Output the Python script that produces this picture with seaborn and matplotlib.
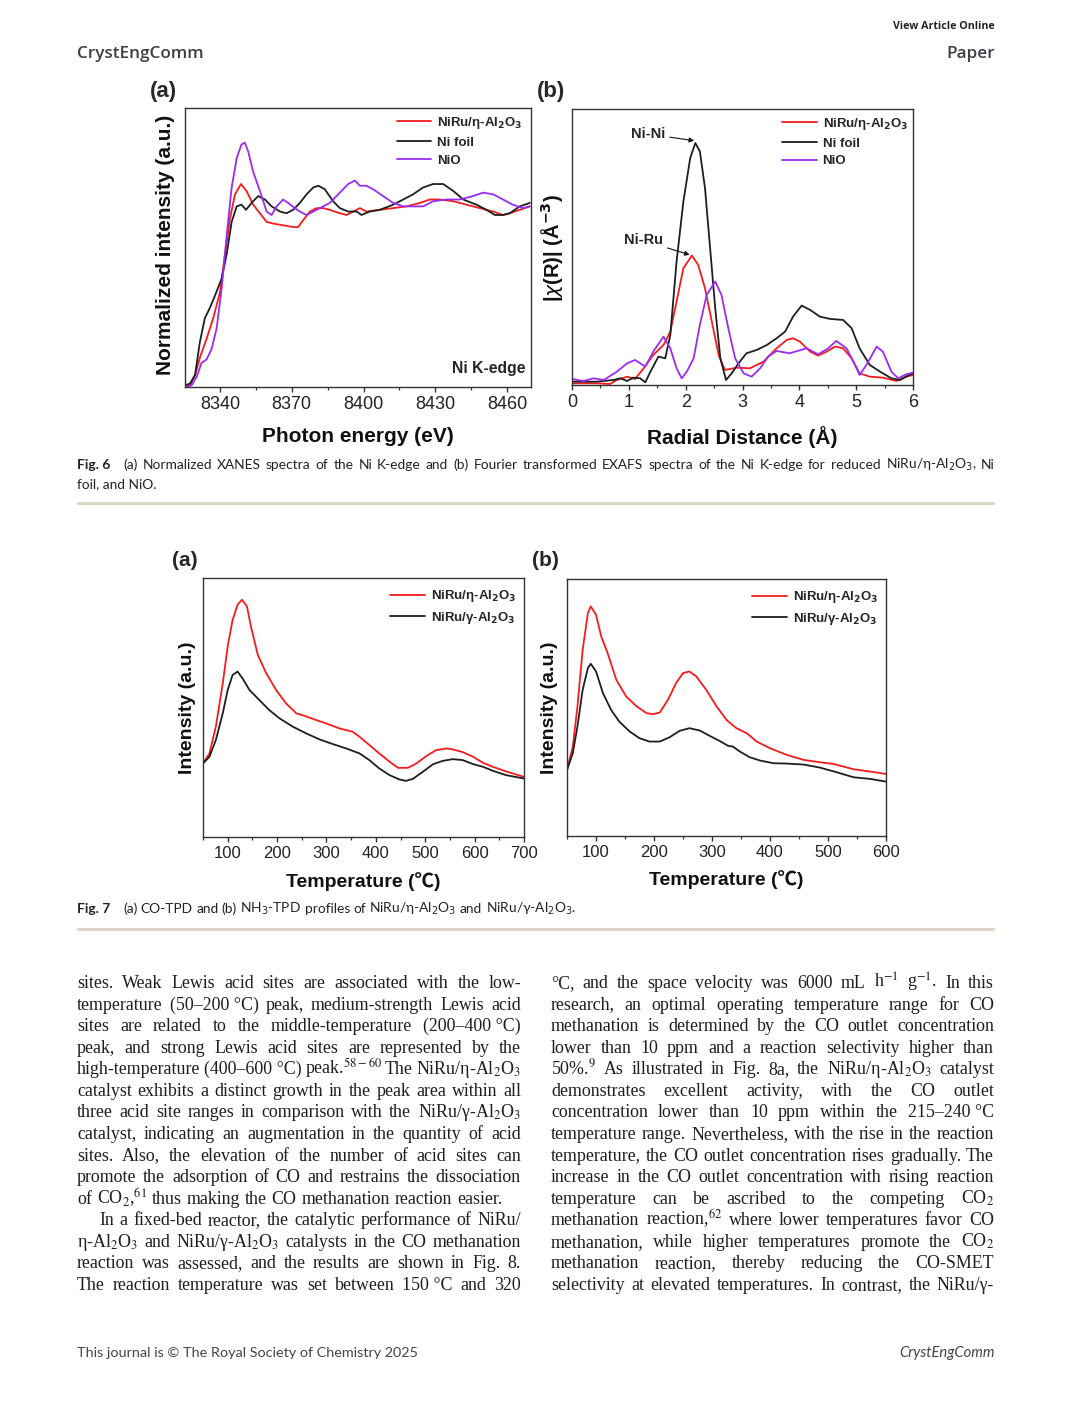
import numpy as np
import pandas as pd
import seaborn as sns
import matplotlib
matplotlib.use("Agg")
import matplotlib.pyplot as plt
from matplotlib.ticker import MultipleLocator
from matplotlib.patches import Rectangle

# ---------------- data ----------------
# Fig 6a XANES
xanes_x_ni_ru = [8325.4, 8327.5, 8329.6, 8331.6, 8334.4, 8337.2, 8340.0, 8342.1, 8344.2, 8346.3, 8348.8, 8351.1,
                 8353.9, 8356.7, 8359.5, 8362.3, 8366.4, 8370.6, 8372.7, 8374.8, 8377.6, 8380.4, 8383.2, 8385.9,
                 8390.1, 8392.9, 8395.7, 8398.5, 8401.2, 8406.8, 8412.4, 8418.0, 8423.5, 8427.7, 8431.9, 8437.5,
                 8443.0, 8448.6, 8454.2, 8458.3, 8461.1, 8465.3, 8469.5]
xanes_y_ni_ru = [0.00, 0.00, 0.06, 0.16, 0.27, 0.39, 0.54, 0.76, 0.97, 1.11, 1.17, 1.13, 1.05, 1.00, 0.95, 0.94,
                 0.93, 0.92, 0.92, 0.96, 1.01, 1.03, 1.03, 1.02, 1.00, 0.99, 1.01, 1.03, 1.01, 1.02, 1.03, 1.04,
                 1.06, 1.08, 1.08, 1.07, 1.05, 1.03, 1.01, 0.99, 1.00, 1.02, 1.04]
xanes_x_foil = [8325.4, 8327.5, 8329.6, 8331.6, 8333.7, 8335.8, 8337.9, 8340.7, 8342.8, 8344.9, 8347.0, 8349.0,
                8350.9, 8353.2, 8356.0, 8358.8, 8361.6, 8365.1, 8367.8, 8370.6, 8373.4, 8376.2, 8379.0, 8381.1,
                8383.8, 8387.3, 8390.1, 8393.6, 8397.1, 8399.2, 8402.6, 8406.8, 8412.4, 8416.6, 8420.7, 8424.9,
                8429.1, 8433.3, 8437.5, 8441.7, 8447.2, 8451.4, 8454.9, 8458.3, 8461.1, 8465.3, 8469.5]
xanes_y_foil = [0.00, 0.01, 0.06, 0.25, 0.39, 0.45, 0.52, 0.62, 0.76, 0.95, 1.04, 1.05, 1.02, 1.06, 1.10, 1.08,
                1.04, 1.01, 1.00, 1.02, 1.06, 1.11, 1.15, 1.16, 1.14, 1.07, 1.03, 1.01, 1.01, 0.99, 1.01, 1.02,
                1.05, 1.08, 1.11, 1.15, 1.17, 1.17, 1.13, 1.08, 1.05, 1.02, 0.99, 0.99, 1.00, 1.04, 1.06]
xanes_x_nio = [8325.4, 8328.2, 8330.3, 8332.3, 8334.4, 8336.5, 8338.6, 8340.7, 8342.8, 8344.9, 8347.0, 8349.0,
               8350.4, 8351.8, 8353.9, 8356.7, 8359.5, 8361.6, 8363.7, 8366.4, 8368.5, 8371.3, 8373.4, 8376.2,
               8379.0, 8381.8, 8385.9, 8390.1, 8393.6, 8396.4, 8398.5, 8401.2, 8404.0, 8408.2, 8412.4, 8416.6,
               8420.7, 8424.9, 8429.1, 8434.7, 8440.3, 8445.8, 8450.0, 8454.2, 8458.3, 8462.4, 8466.6, 8469.5]
xanes_y_nio = [-0.01, 0.00, 0.05, 0.13, 0.15, 0.21, 0.33, 0.56, 0.87, 1.15, 1.32, 1.40, 1.41, 1.36, 1.24, 1.13,
               1.01, 0.99, 1.04, 1.08, 1.06, 1.03, 1.01, 0.99, 1.01, 1.03, 1.06, 1.12, 1.17, 1.19, 1.16, 1.16,
               1.14, 1.10, 1.06, 1.04, 1.04, 1.04, 1.07, 1.08, 1.08, 1.10, 1.12, 1.11, 1.08, 1.05, 1.03, 1.04]

# Fig 6b EXAFS
exafs_x_foil = [0.00, 0.44, 0.73, 0.85, 0.97, 1.08, 1.20, 1.29, 1.38, 1.52, 1.64, 1.73, 1.84, 1.96, 2.08, 2.17,
                2.25, 2.34, 2.43, 2.52, 2.61, 2.71, 2.81, 2.93, 3.07, 3.25, 3.43, 3.60, 3.75, 3.89, 4.04, 4.19,
                4.36, 4.54, 4.77, 4.92, 5.06, 5.24, 5.42, 5.62, 5.77, 5.88, 6.00]
exafs_y_foil = [0.10, 0.10, 0.15, 0.20, 0.12, 0.22, 0.20, 0.08, 0.40, 0.85, 0.80, 1.50, 3.70, 5.50, 6.80, 7.25,
                7.00, 5.90, 4.10, 2.30, 0.80, 0.15, 0.35, 0.65, 0.95, 1.05, 1.20, 1.40, 1.60, 2.05, 2.38, 2.25,
                2.05, 1.98, 1.95, 1.70, 1.10, 0.60, 0.40, 0.20, 0.15, 0.25, 0.35]
exafs_x_ni_ru = [0.00, 0.44, 0.67, 0.79, 0.97, 1.11, 1.26, 1.43, 1.61, 1.73, 1.84, 1.96, 2.11, 2.22, 2.34, 2.46,
                 2.58, 2.69, 2.90, 3.13, 3.37, 3.60, 3.78, 3.89, 4.01, 4.19, 4.33, 4.48, 4.63, 4.77, 4.92, 5.06,
                 5.24, 5.47, 5.71, 5.88, 6.00]
exafs_y_ni_ru = [0.05, 0.05, 0.03, 0.15, 0.25, 0.18, 0.50, 0.90, 1.20, 1.60, 2.50, 3.50, 3.88, 3.60, 2.90, 1.90,
                 0.90, 0.45, 0.52, 0.50, 0.70, 1.10, 1.35, 1.40, 1.30, 1.00, 0.88, 1.00, 1.15, 1.10, 0.80, 0.35,
                 0.25, 0.22, 0.12, 0.25, 0.30]
exafs_x_nio = [0.00, 0.20, 0.38, 0.56, 0.79, 0.97, 1.11, 1.29, 1.43, 1.61, 1.73, 1.84, 1.93, 2.02, 2.14, 2.25,
               2.37, 2.52, 2.63, 2.75, 2.87, 3.02, 3.16, 3.31, 3.45, 3.60, 3.83, 4.13, 4.33, 4.51, 4.65, 4.83,
               4.98, 5.06, 5.18, 5.36, 5.47, 5.62, 5.74, 5.88, 6.00]
exafs_y_nio = [0.18, 0.12, 0.20, 0.15, 0.40, 0.65, 0.75, 0.55, 1.00, 1.45, 1.10, 0.50, 0.20, 0.40, 0.80, 1.80,
               2.70, 3.10, 2.70, 1.70, 0.80, 0.35, 0.25, 0.50, 0.85, 1.02, 0.95, 1.10, 0.92, 1.10, 1.32, 1.10,
               0.60, 0.30, 0.60, 1.15, 1.00, 0.40, 0.20, 0.32, 0.37]

# Fig 7a CO-TPD
co_x_eta = [50, 63, 76, 90, 100, 110, 120, 129, 139, 147, 161, 178, 198, 218, 239, 255, 279, 299, 326, 353,
            367, 387, 407, 428, 445, 465, 482, 502, 522, 543, 556, 576, 597, 617, 637, 664, 700]
co_y_eta = [2.20, 2.50, 3.30, 4.60, 5.70, 6.50, 6.95, 7.10, 6.90, 6.30, 5.45, 4.90, 4.40, 4.00, 3.70, 3.63,
            3.50, 3.40, 3.25, 3.15, 3.00, 2.75, 2.50, 2.25, 2.07, 2.07, 2.20, 2.42, 2.60, 2.65, 2.62, 2.54,
            2.40, 2.22, 2.10, 1.96, 1.80]
co_x_gamma = [50, 63, 76, 90, 100, 110, 120, 130, 144, 164, 184, 205, 232, 259, 286, 313, 340, 367, 387, 407,
              428, 448, 461, 475, 495, 516, 536, 556, 576, 597, 617, 637, 664, 700]
co_y_gamma = [2.20, 2.40, 2.90, 3.70, 4.40, 4.85, 4.95, 4.75, 4.40, 4.10, 3.80, 3.55, 3.30, 3.10, 2.92, 2.78,
              2.65, 2.50, 2.30, 2.05, 1.85, 1.72, 1.68, 1.74, 1.95, 2.18, 2.28, 2.33, 2.30, 2.18, 2.10, 1.98,
              1.85, 1.75]

# Fig 7b NH3-TPD
nh3_x_eta = [50, 60, 68, 77, 86, 91, 100, 109, 120, 135, 152, 169, 187, 198, 210, 224, 238, 250, 261, 273,
             290, 308, 325, 342, 360, 377, 400, 429, 458, 486, 509, 544, 573, 600]
nh3_y_eta = [1.98, 2.68, 3.88, 5.58, 6.68, 6.88, 6.63, 5.98, 5.48, 4.68, 4.18, 3.90, 3.68, 3.65, 3.70, 4.08,
             4.58, 4.88, 4.93, 4.78, 4.38, 3.88, 3.48, 3.23, 3.08, 2.83, 2.63, 2.43, 2.28, 2.21, 2.16, 2.00,
             1.93, 1.86]
nh3_x_gamma = [50, 60, 68, 77, 86, 91, 100, 112, 126, 140, 158, 175, 192, 210, 227, 244, 261, 279, 296, 313,
               328, 336, 348, 365, 383, 406, 429, 458, 486, 515, 544, 573, 600]
nh3_y_gamma = [1.98, 2.48, 3.28, 4.38, 5.03, 5.16, 4.93, 4.28, 3.78, 3.43, 3.13, 2.93, 2.83, 2.83, 2.96, 3.15,
               3.23, 3.16, 3.00, 2.85, 2.70, 2.68, 2.53, 2.36, 2.26, 2.18, 2.17, 2.14, 2.05, 1.91, 1.76, 1.71,
               1.63]

lab_eta = r"NiRu/η-Al$_\mathbf{2}$O$_\mathbf{3}$"
lab_gamma = r"NiRu/γ-Al$_\mathbf{2}$O$_\mathbf{3}$"
lab_foil = "Ni foil"
lab_nio = "NiO"

xanes_ticks = [8340, 8370, 8400, 8430, 8460]
exafs_ticks = [0, 1, 2, 3, 4, 5, 6]
co_ticks = [100, 200, 300, 400, 500, 600, 700]
nh3_ticks = [100, 200, 300, 400, 500, 600]

NB = "\u00a0"
left_lines = [
    "sites. Weak Lewis acid sites are associated with the low-",
    "temperature (50–200" + NB + "°C) peak, medium-strength Lewis acid",
    "sites are related to the middle-temperature (200–400" + NB + "°C)",
    "peak, and strong Lewis acid sites are represented by the",
    "high-temperature (400–600" + NB + r"°C) peak.$^{58-60}$ The NiRu/η-Al$_2$O$_3$",
    "catalyst exhibits a distinct growth in the peak area within all",
    r"three acid site ranges in comparison with the NiRu/γ-Al$_2$O$_3$",
    "catalyst, indicating an augmentation in the quantity of acid",
    "sites. Also, the elevation of the number of acid sites can",
    "promote the adsorption of CO and restrains the dissociation",
    r"of CO$_2$,$^{61}$ thus making the CO methanation reaction easier.",
    "In a fixed-bed reactor, the catalytic performance of NiRu/",
    r"η-Al$_2$O$_3$ and NiRu/γ-Al$_2$O$_3$ catalysts in the CO methanation",
    "reaction was assessed, and the results are shown in Fig. 8.",
    "The reaction temperature was set between 150" + NB + "°C and 320",
]
right_lines = [
    r"°C, and the space velocity was 6000 mL h$^{-1}$ g$^{-1}$. In this",
    "research, an optimal operating temperature range for CO",
    "methanation is determined by the CO outlet concentration",
    "lower than 10 ppm and a reaction selectivity higher than",
    r"50%.$^{9}$ As illustrated in Fig. 8a, the NiRu/η-Al$_2$O$_3$ catalyst",
    "demonstrates excellent activity, with the CO outlet",
    "concentration lower than 10 ppm within the 215–240" + NB + "°C",
    "temperature range. Nevertheless, with the rise in the reaction",
    "temperature, the CO outlet concentration rises gradually. The",
    "increase in the CO outlet concentration with rising reaction",
    r"temperature can be ascribed to the competing CO$_2$",
    r"methanation reaction,$^{62}$ where lower temperatures favor CO",
    r"methanation, while higher temperatures promote the CO$_2$",
    "methanation reaction, thereby reducing the CO-SMET",
    "selectivity at elevated temperatures. In contrast, the NiRu/γ-",
]

# ---------------- style ----------------
sns.set_theme(style="ticks")
plt.rcParams["font.family"] = ["Liberation Sans", "DejaVu Sans"]
plt.rcParams["mathtext.fontset"] = "dejavusans"
plt.rcParams["axes.edgecolor"] = "#333333"
plt.rcParams["axes.linewidth"] = 1.0
plt.rcParams["xtick.color"] = "#333333"
plt.rcParams["xtick.labelcolor"] = "#222222"
plt.rcParams["axes.facecolor"] = "white"

W, H = 1072, 1404
fig = plt.figure(figsize=(W / 100, H / 100), dpi=100)
fig.patch.set_facecolor("white")


def add_ax(l, t, r, b):
    return fig.add_axes([l / W, 1 - b / H, (r - l) / W, (b - t) / H])


def fy(py):
    return 1 - py / H


RED = "#f41c1c"
BLACK = "#1e1e1e"
PURPLE = "#9a2cf2"


def style_axis(ax, xlim, ylim, ticks, minor, tsize):
    ax.set_xlim(*xlim)
    ax.set_ylim(*ylim)
    ax.set_xticks(ticks)
    ax.xaxis.set_minor_locator(MultipleLocator(minor))
    ax.set_yticks([])
    ax.tick_params(axis="x", which="major", direction="out", length=3.5, width=1.0, pad=3,
                   labelsize=tsize)
    ax.tick_params(axis="x", which="minor", direction="out", length=2.0, width=0.9)
    for s in ax.spines.values():
        s.set_visible(True)
        s.set_linewidth(1.0)
    ax.set_xlabel("")
    ax.set_ylabel("")


def series(ax, x, y, color, label):
    sns.lineplot(x=x, y=y, color=color, ax=ax, linewidth=1.3, sort=False, estimator=None,
                 label=label, legend=False)


def legend(ax, anchor):
    leg = ax.legend(loc="upper right", bbox_to_anchor=anchor, frameon=False,
                    prop={"weight": "bold", "size": 9.5}, handlelength=2.6, handletextpad=0.45,
                    labelspacing=0.42, borderaxespad=0, borderpad=0)
    for l in leg.get_lines():
        l.set_linewidth(1.3)
    return leg


LBL = dict(fontsize=15, fontweight="bold", color="#111111")
TEMP_LBL = dict(fontsize=14, fontweight="bold", color="#111111",
                family=["Liberation Sans", "Noto Sans CJK SC", "DejaVu Sans"])

# ---- Fig 6a ----
ax = add_ax(185, 108, 531, 387)
series(ax, xanes_x_ni_ru, xanes_y_ni_ru, RED, lab_eta)
series(ax, xanes_x_foil, xanes_y_foil, BLACK, lab_foil)
series(ax, xanes_x_nio, xanes_y_nio, PURPLE, lab_nio)
style_axis(ax, (8325.4, 8470), (-0.01, 1.612), xanes_ticks, 15, 13)
legend(ax, (0.975, 0.975))
ax.text(0.983, 0.068, "Ni K-edge", transform=ax.transAxes, ha="right", va="center",
        fontsize=11.3, fontweight="bold")
ax.set_xlabel("Photon energy (eV)", **LBL)
ax.xaxis.set_label_coords(0.5, (387 - 437) / 279)
ax.xaxis.label.set_va("center")
ax.set_ylabel("Normalized intensity (a.u.)", **LBL)
ax.yaxis.set_label_coords((165.5 - 185) / 346, 0.509)
ax.yaxis.label.set_va("center")
fig.text(150 / W, fy(92), "(a)", fontsize=16, fontweight="bold", va="center", ha="left")

# ---- Fig 6b ----
ax = add_ax(572, 109, 913, 385)
series(ax, exafs_x_ni_ru, exafs_y_ni_ru, RED, lab_eta)
series(ax, exafs_x_foil, exafs_y_foil, BLACK, lab_foil)
series(ax, exafs_x_nio, exafs_y_nio, PURPLE, lab_nio)
style_axis(ax, (0, 6), (0, 8.27), exafs_ticks, 0.5, 13)
legend(ax, (0.985, 0.975))
arr = dict(arrowstyle="-|>", color="#111111", lw=0.8, mutation_scale=7, shrinkA=1, shrinkB=0)
ax.annotate("Ni-Ni", xy=(2.15, 7.32), xytext=(1.64, 7.52), ha="right", va="center",
            fontsize=10.5, fontweight="bold", arrowprops=arr)
ax.annotate("Ni-Ru", xy=(2.07, 3.9), xytext=(1.60, 4.33), ha="right", va="center",
            fontsize=10.5, fontweight="bold", arrowprops=arr)
ax.set_xlabel("Radial Distance (Å)", **LBL)
ax.xaxis.set_label_coords(0.5, (385 - 437) / 276)
ax.xaxis.label.set_va("center")
ax.set_ylabel(r"|$\chi$(R)| (Å$^{\mathbf{-3}}$)", fontsize=14.5, fontweight="bold", color="#111111")
ax.yaxis.set_label_coords((552 - 572) / 341, 0.496)
ax.yaxis.label.set_va("center")
fig.text(537 / W, fy(91), "(b)", fontsize=16, fontweight="bold", va="center", ha="left")

# ---- Fig 7a ----
ax = add_ax(203, 578, 524, 837)
series(ax, co_x_eta, co_y_eta, RED, lab_eta)
series(ax, co_x_gamma, co_y_gamma, BLACK, lab_gamma)
style_axis(ax, (50, 700), (0, 7.75), co_ticks, 50, 12)
legend(ax, (0.975, 0.96))
ax.set_xlabel("Temperature (℃)", **TEMP_LBL)
ax.xaxis.set_label_coords(0.5, (837 - 882) / 259)
ax.xaxis.label.set_va("center")
ax.set_ylabel("Intensity (a.u.)", fontsize=14, fontweight="bold", color="#111111")
ax.yaxis.set_label_coords((187 - 203) / 321, 0.5)
ax.yaxis.label.set_va("center")
fig.text(172 / W, fy(561), "(a)", fontsize=15, fontweight="bold", va="center", ha="left")

# ---- Fig 7b ----
ax = add_ax(567, 579, 886, 836)
series(ax, nh3_x_eta, nh3_y_eta, RED, lab_eta)
series(ax, nh3_x_gamma, nh3_y_gamma, BLACK, lab_gamma)
style_axis(ax, (50, 600), (0, 7.70), nh3_ticks, 50, 12)
legend(ax, (0.975, 0.96))
ax.set_xlabel("Temperature (℃)", **TEMP_LBL)
ax.xaxis.set_label_coords(0.5, (836 - 880) / 257)
ax.xaxis.label.set_va("center")
ax.set_ylabel("Intensity (a.u.)", fontsize=14, fontweight="bold", color="#111111")
ax.yaxis.set_label_coords((549 - 567) / 319, 0.5)
ax.yaxis.label.set_va("center")
fig.text(532 / W, fy(560), "(b)", fontsize=15, fontweight="bold", va="center", ha="left")

# ---------------- page text ----------------
renderer = fig.canvas.get_renderer()


def token_widths(tokens, size, **kw):
    ws = []
    for t in tokens:
        o = fig.text(0, 0, t, fontsize=size, **kw)
        ws.append(o.get_window_extent(renderer=renderer).width)
        o.remove()
    return ws


def fit_size(lines, spans, max_size, min_gap, **kw):
    best = max_size
    for toks, (x0, x1) in zip(lines, spans):
        ws = token_widths(toks, 10.0, **kw)
        s = 10.0 * (x1 - x0 - (len(toks) - 1) * min_gap) / sum(ws)
        best = min(best, s)
    return best


def place_line(tokens, x0, x1, y, size, justify=True, space=4.5, **kw):
    objs = [fig.text(0, fy(y), t, ha="left", va="baseline", fontsize=size, **kw) for t in tokens]
    widths = [o.get_window_extent(renderer=renderer).width for o in objs]
    if justify and len(tokens) > 1:
        gap = (x1 - x0 - sum(widths)) / (len(tokens) - 1)
    else:
        gap = space
    x = x0
    for o, w in zip(objs, widths):
        o.set_x(x / W)
        x += w + gap


cap_kw = dict(family=["Lato", "DejaVu Sans"], color="#222222", math_fontfamily="dejavusans")
CAP_SIZE = 9.9

# header
fig.text(995 / W, fy(29), "View Article Online", ha="right", va="baseline", fontsize=7.7,
         fontweight="bold", family=["Open Sans", "DejaVu Sans"], color="#222222")
fig.text(77 / W, fy(58), "CrystEngComm", ha="left", va="baseline", fontsize=12.3,
         fontweight="semibold", family=["Open Sans", "DejaVu Sans"], color="#3a3f47")
fig.text(995 / W, fy(58), "Paper", ha="right", va="baseline", fontsize=12.3,
         fontweight="semibold", family=["Open Sans", "DejaVu Sans"], color="#3a3f47")

# Fig 6 caption
cap6 = (r"(a) Normalized XANES spectra of the Ni K-edge and (b) Fourier transformed EXAFS spectra "
        r"of the Ni K-edge for reduced NiRu/η-Al$_2$O$_3$, Ni").split(" ")
cap_size6 = min(CAP_SIZE, fit_size([cap6], [(123, 995)], CAP_SIZE, 3.0, **cap_kw))
fig.text(77 / W, fy(469), "Fig. 6", ha="left", va="baseline", fontweight="bold", fontsize=CAP_SIZE,
         **cap_kw)
place_line(cap6, 123, 995, 469, cap_size6, True, **cap_kw)
fig.text(77 / W, fy(488), "foil, and NiO.", ha="left", va="baseline", fontsize=cap_size6, **cap_kw)
fig.add_artist(Rectangle((77 / W, fy(505)), (995 - 77) / W, 3 / H, transform=fig.transFigure,
                         color="#dcd7c6", lw=0))

# Fig 7 caption
fig.text(77 / W, fy(913), "Fig. 7", ha="left", va="baseline", fontweight="bold", fontsize=CAP_SIZE,
         **cap_kw)
cap7 = r"(a) CO-TPD and (b) NH$_3$-TPD profiles of NiRu/η-Al$_2$O$_3$ and NiRu/γ-Al$_2$O$_3$."
place_line(cap7.split(" "), 123, 995, 913, CAP_SIZE, False, space=3.4, **cap_kw)
fig.add_artist(Rectangle((77 / W, fy(931)), (995 - 77) / W, 3 / H, transform=fig.transFigure,
                         color="#dcd7c6", lw=0))

# body text
body_kw = dict(family=["Liberation Serif", "DejaVu Serif"], color="#1e1e1e", math_fontfamily="stix")
L_tok = [l.split(" ") for l in left_lines]
R_tok = [l.split(" ") for l in right_lines]
just_lines, just_spans = [], []
for i, t in enumerate(L_tok):
    if i != 10:
        just_lines.append(t)
        just_spans.append((99 if i == 11 else 77, 521))
for t in R_tok:
    just_lines.append(t)
    just_spans.append((551, 994))
BODY_SIZE = min(13.4, fit_size(just_lines, just_spans, 13.4, 3.2, **body_kw))

for i, toks in enumerate(L_tok):
    y = 988 + i * 21.57
    x0 = 99 if i == 11 else 77
    place_line(toks, x0, 521, y, BODY_SIZE, justify=(i != 10), space=0.27 * BODY_SIZE * 1.389,
               **body_kw)
for i, toks in enumerate(R_tok):
    y = 988 + i * 21.57
    place_line(toks, 551, 994, y, BODY_SIZE, justify=True, **body_kw)

# footer
fig.text(77 / W, fy(1357), "This journal is © The Royal Society of Chemistry 2025", ha="left",
         va="baseline", fontsize=10.4, family=["Lato", "DejaVu Sans"], color="#444444")
fig.text(995 / W, fy(1357), "CrystEngComm", ha="right", va="baseline", fontsize=10.6,
         style="italic", family=["Lato", "DejaVu Sans"], color="#444444")

fig.savefig("out.png", dpi=100, facecolor="white")
